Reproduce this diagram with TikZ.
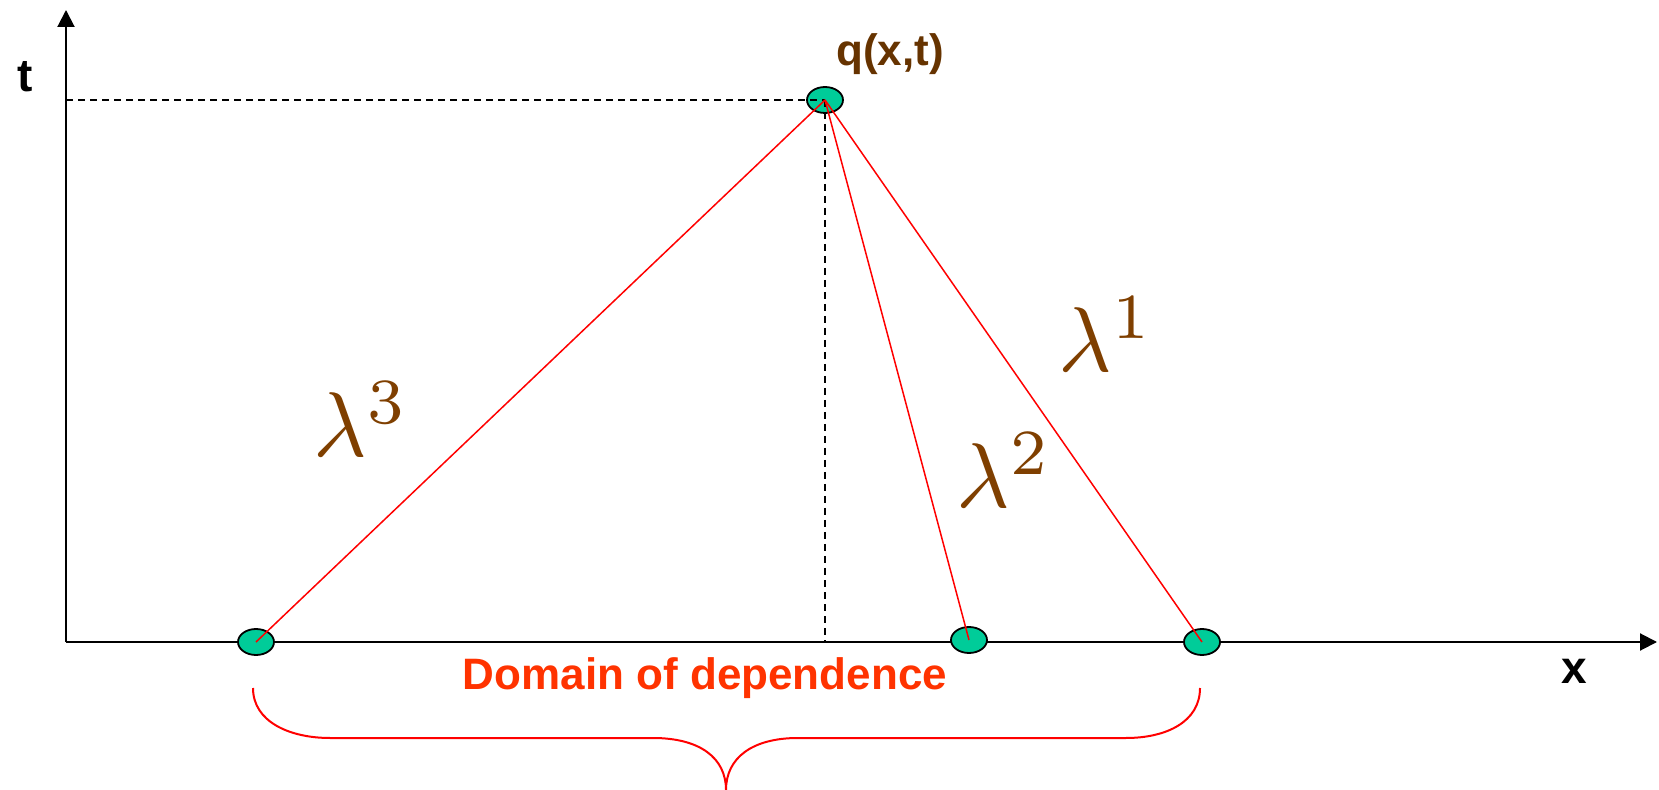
\documentclass[tikz,border=0pt]{standalone}
\usepackage{fontspec}
\newfontfamily\arial{Liberation Sans}
\usetikzlibrary{arrows.meta,shapes.geometric}
\definecolor{charred}{HTML}{FF0000}
\definecolor{domred}{HTML}{FF3300}
\definecolor{ptfill}{HTML}{00CC99}
\definecolor{qbrown}{HTML}{663300}
\definecolor{lambrown}{HTML}{7F3F00}

\begin{document}
\begin{tikzpicture}[
  x=0.5pt, y=-0.5pt, >={Triangle[length=8.5pt,width=8.5pt]},
  axis/.style={draw=black, line width=1pt, ->},
  guide/.style={draw=black, line width=0.9pt, dash pattern=on 3.5pt off 2.5pt},
  char/.style={draw=charred, line width=0.75pt},
  pt/.style={ellipse, draw=black, line width=0.9pt, fill=ptfill, minimum width=18pt, minimum height=13pt, inner sep=0pt},
  lam/.style={text=lambrown, inner sep=0pt, anchor=base west, scale=4.6},
  axlbl/.style={font=\arial\bfseries\fontsize{23}{26}\selectfont, inner sep=0pt, anchor=base},
]
\useasboundingbox (0,0) rectangle (1659,790);

% Axes
\coordinate (O) at (66,642);
\coordinate (tend) at (66,10);
\coordinate (xend) at (1657,642);
\draw[axis] (O) -- (tend);
\draw[axis] (O) -- (xend);
\node[axlbl] (tlbl) at (25,92) {t};
\node[axlbl] (xlbl) at (1574,683) {x};

% Point and feet of the characteristics
\node[pt] (q) at (825,100) {};
\node[pt] (f3) at (256,642) {};
\node[pt] (f2) at (969,640) {};
\node[pt] (f1) at (1202,642) {};
\node[font=\arial\bfseries\fontsize{22}{26}\selectfont, text=qbrown, inner sep=0pt, anchor=base west] (qlbl) at (836,66) {q(x,t)};

% Projections
\coordinate (qt) at (66,100);
\coordinate (qx) at (825,642);
\draw[guide] (qt) -- (q.center);
\draw[guide] (q.center) -- (qx);

% Characteristics
\foreach \k in {1,2,3}{
  \draw[char] (q.center) -- (f\k.center);
}
\node[lam] (l1) at (1057,372) {$\lambda^1$};
\node[lam] (l2) at (955,508) {$\lambda^2$};
\node[lam] (l3) at (312,457) {$\lambda^3$};

% Domain of dependence
\node[font=\arial\bfseries\fontsize{22}{26}\selectfont, text=domred, inner sep=0pt, anchor=base] (dom) at (705,689) {Domain of dependence};
\draw[draw=charred, line width=1pt]
  (253,688) .. controls (253,722) and (290,738) .. (330,738) -- (653,738)
  .. controls (700,738) and (726,758) .. (726,790)
  .. controls (726,758) and (752,738) .. (798,738) -- (1126,738)
  .. controls (1166,738) and (1200,722) .. (1200,688);

\end{tikzpicture}
\end{document}
